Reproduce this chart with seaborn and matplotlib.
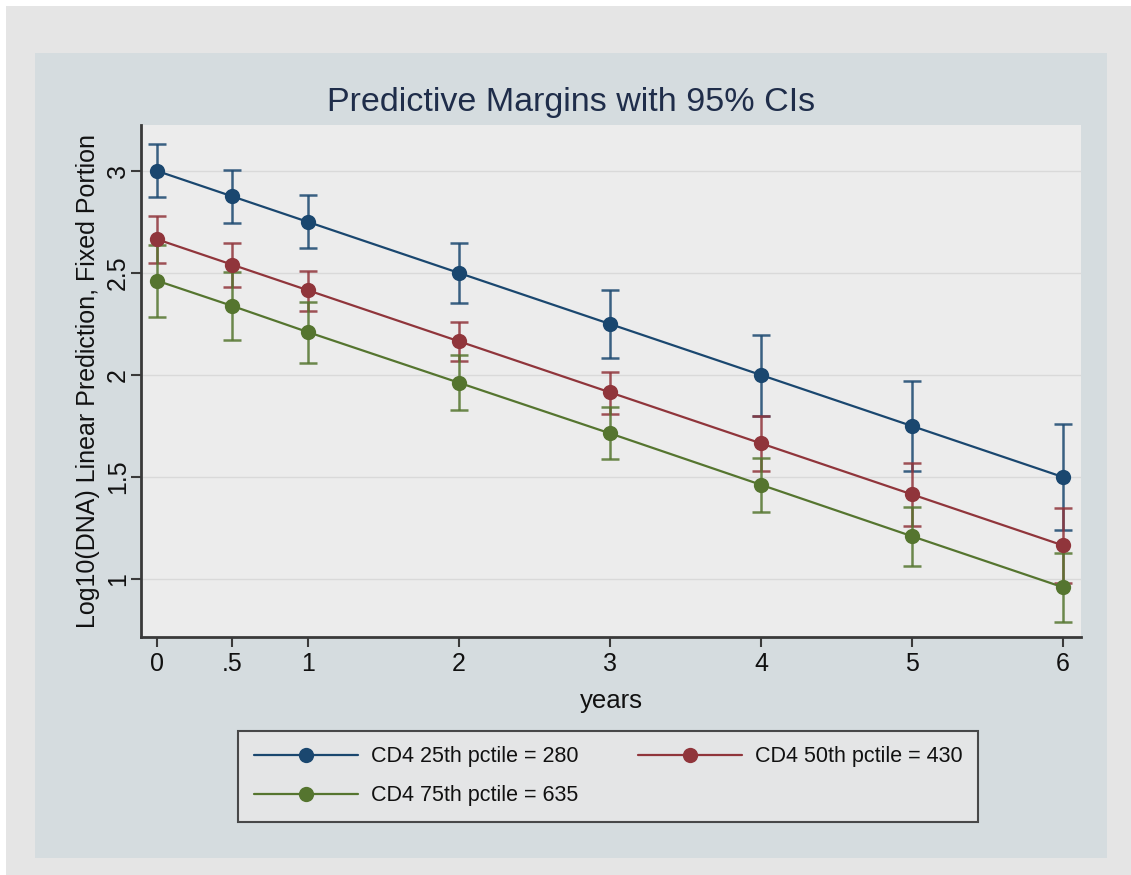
import numpy as np
import pandas as pd
import matplotlib
matplotlib.use("Agg")
import matplotlib.pyplot as plt
from matplotlib.patches import Rectangle
import seaborn as sns

# ---- data ----
years = [0, 0.5, 1, 2, 3, 4, 5, 6]
xtick_labels = ["0", ".5", "1", "2", "3", "4", "5", "6"]
yticks = [1, 1.5, 2, 2.5, 3]
ytick_labels = ["1", "1.5", "2", "2.5", "3"]

groups = ["CD4 25th pctile = 280", "CD4 50th pctile = 430", "CD4 75th pctile = 635"]

margin_25 = [3.00, 2.875, 2.75, 2.50, 2.25, 2.00, 1.75, 1.50]
lo_25 = [2.87, 2.745, 2.62, 2.355, 2.085, 1.80, 1.53, 1.24]
hi_25 = [3.13, 3.005, 2.88, 2.645, 2.415, 2.195, 1.97, 1.76]

margin_50 = [2.665, 2.54, 2.415, 2.165, 1.915, 1.665, 1.415, 1.165]
lo_50 = [2.55, 2.433, 2.315, 2.07, 1.81, 1.53, 1.26, 0.98]
hi_50 = [2.78, 2.646, 2.51, 2.26, 2.015, 1.80, 1.57, 1.35]

margin_75 = [2.462, 2.338, 2.21, 1.962, 1.714, 1.462, 1.21, 0.96]
lo_75 = [2.286, 2.17, 2.06, 1.828, 1.587, 1.33, 1.065, 0.79]
hi_75 = [2.638, 2.505, 2.36, 2.096, 1.841, 1.594, 1.355, 1.13]

colors = ["#1a476f", "#90353b", "#55752f"]

rows = []
for g, m, lo, hi in zip(groups, [margin_25, margin_50, margin_75],
                        [lo_25, lo_50, lo_75], [hi_25, hi_50, hi_75]):
    for x, v, l, h in zip(years, m, lo, hi):
        rows.append({"years": x, "margin": v, "lo": l, "hi": h, "group": g})
df = pd.DataFrame(rows)

# ---- style ----
sns.set_theme(style="white")
plt.rcParams["font.family"] = ["Liberation Sans", "DejaVu Sans"]

W, H = 1131, 875
fig = plt.figure(figsize=(W / 100, H / 100), dpi=100)
fig.patch.set_facecolor("white")

# outer gray frame and inner panel
fig.patches.append(Rectangle((6 / W, 0), 1 - 6 / W, 1 - 6 / H, transform=fig.transFigure,
                             facecolor="#e5e5e5", edgecolor="none", zorder=-3))
fig.patches.append(Rectangle((35 / W, 1 - 858 / H), (1107 - 35) / W, (858 - 53) / H,
                             transform=fig.transFigure, facecolor="#d5dcdf",
                             edgecolor="none", zorder=-2))

ax = fig.add_axes([141 / W, 1 - 637 / H, (1081 - 141) / W, (637 - 125) / H])
ax.set_facecolor("#ececec")

# error bars
for g, c in zip(groups, colors):
    sub = df[df["group"] == g]
    ax.errorbar(sub["years"], sub["margin"],
                yerr=[sub["margin"] - sub["lo"], sub["hi"] - sub["margin"]],
                fmt="none", ecolor=c, elinewidth=1.8, capsize=6.5, capthick=1.8,
                alpha=0.85, zorder=2)

sns.lineplot(data=df, x="years", y="margin", hue="group", palette=colors,
             marker="o", markersize=11, markeredgewidth=0, linewidth=1.6,
             ax=ax, zorder=3, legend=True)

ax.set_xlim(-0.106, 6.12)
ax.set_ylim(0.716, 3.225)
ax.set_xticks(years)
ax.set_xticklabels(xtick_labels)
ax.set_yticks(yticks)
ax.set_yticklabels(ytick_labels, rotation=90, va="center")

ax.yaxis.grid(True, color="#d9d9d9", linewidth=1.0)
ax.xaxis.grid(False)
ax.set_axisbelow(True)

for s in ["top", "right"]:
    ax.spines[s].set_visible(False)
for s in ["left", "bottom"]:
    ax.spines[s].set_color("#3a3a3a")
    ax.spines[s].set_linewidth(2.0)

ax.tick_params(axis="x", which="major", length=7, width=1.5, color="#3a3a3a",
               labelsize=18, labelcolor="#111111", bottom=True, pad=4)
ax.tick_params(axis="y", which="major", length=7, width=1.5, color="#3a3a3a",
               labelsize=18, labelcolor="#111111", left=True, pad=1)

ax.set_xlabel("years", fontsize=18.5, color="#111111", labelpad=9)
ax.set_ylabel("Log10(DNA) Linear Prediction, Fixed Portion", fontsize=18, color="#111111",
              labelpad=4)

fig.text(571 / W, 1 - 103 / H, "Predictive Margins with 95% CIs", ha="center", va="center",
         fontsize=24.5, color="#1f2d4a")

# legend (row-wise order: blue, red / green)
handles, labels = ax.get_legend_handles_labels()
ax.get_legend().remove()
order = [0, 2, 1]
leg = fig.legend([handles[i] for i in order], [labels[i] for i in order], loc="lower left",
                 bbox_to_anchor=(238 / W, 1 - 822 / H, (978 - 238) / W, (822 - 729) / H),
                 mode="expand", ncol=2, fontsize=15.5, frameon=True, fancybox=False,
                 handlelength=4.85, handletextpad=0.6, borderaxespad=0, borderpad=0.72,
                 labelspacing=0.85, columnspacing=1.5)
leg.get_frame().set_facecolor("#e8e8e8")
leg.get_frame().set_edgecolor("#222222")
leg.get_frame().set_linewidth(1.5)
for t in leg.get_texts():
    t.set_color("#111111")

fig.savefig("out.png", dpi=100)
